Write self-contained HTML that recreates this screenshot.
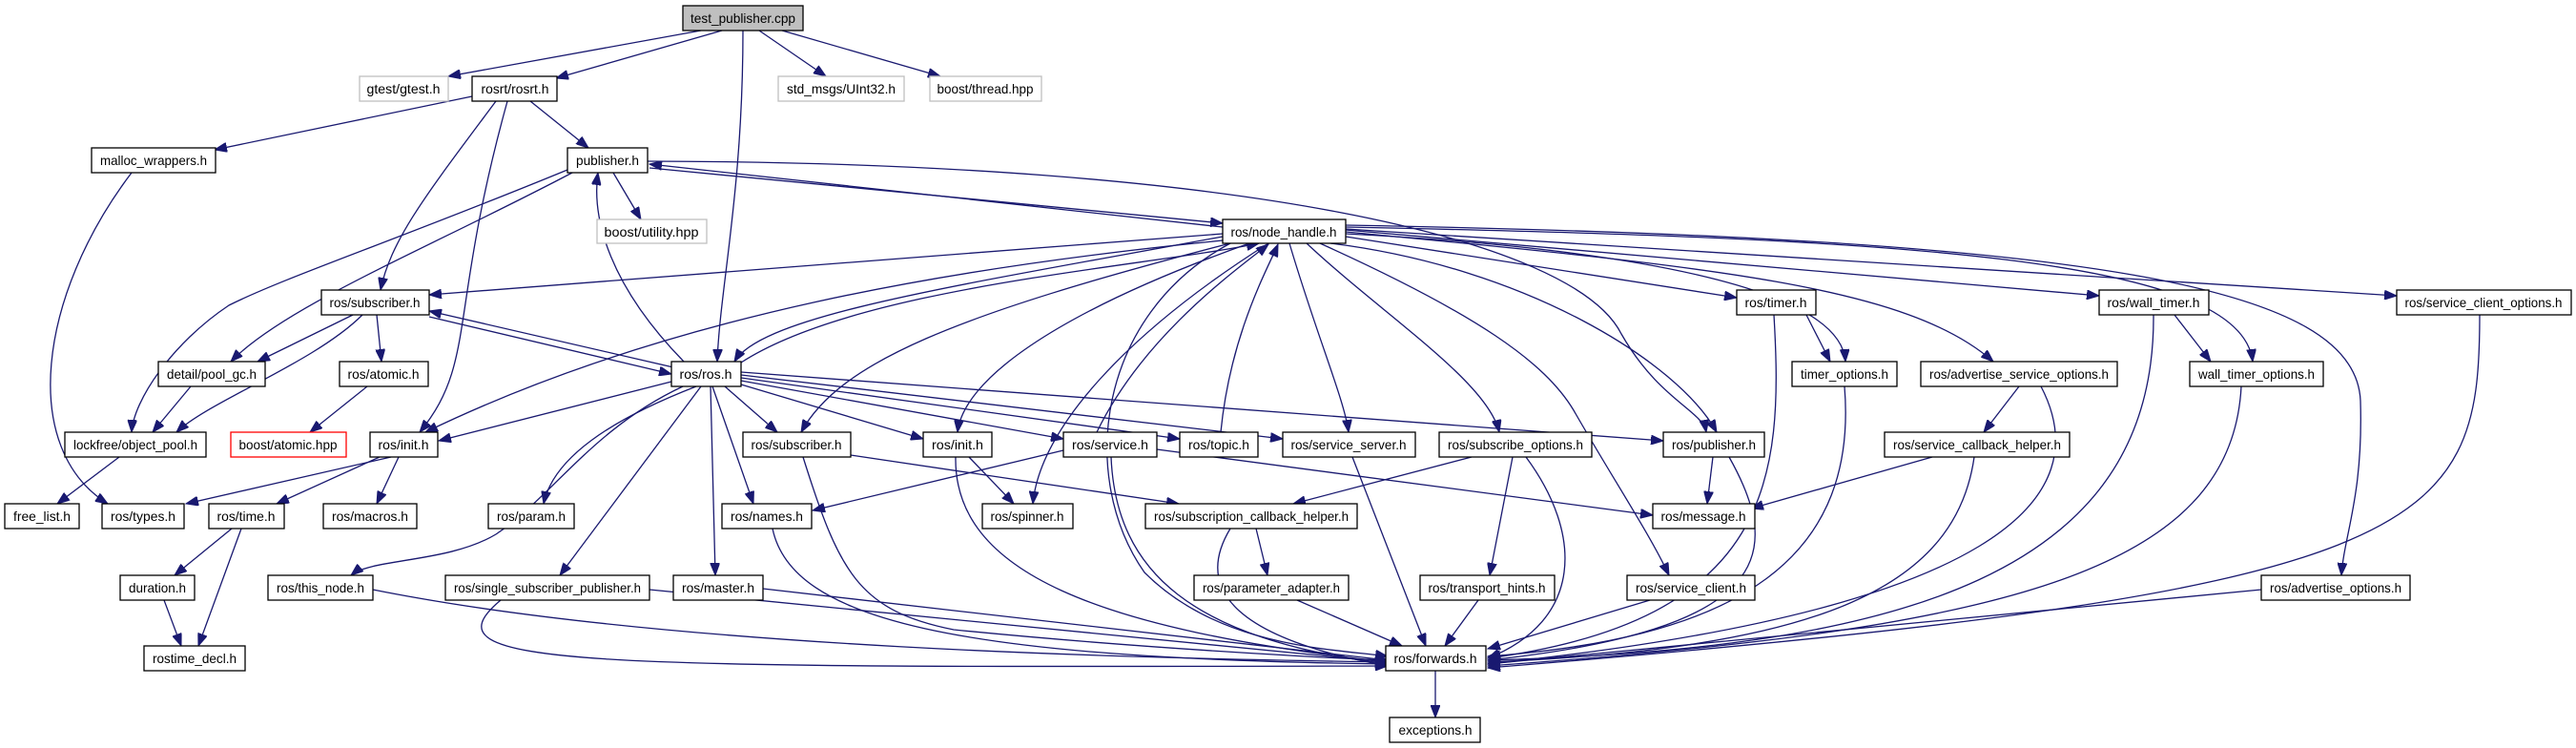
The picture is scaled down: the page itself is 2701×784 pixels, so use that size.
<!DOCTYPE html>
<html><head><meta charset="utf-8"><style>
html,body{margin:0;padding:0;background:#fff;}
svg{display:block;}
text{font-family:"Liberation Sans",Arial,sans-serif;font-size:14px;fill:#000;}
.e{fill:none;stroke:#191970;stroke-width:1.3;}
.n rect{fill:#fff;stroke:#000;stroke-width:1.3;}
</style></head><body>
<svg width="2701" height="784" viewBox="0 0 2701 784" xmlns="http://www.w3.org/2000/svg">
<defs><marker id="a" markerUnits="userSpaceOnUse" markerWidth="14" markerHeight="10" refX="13" refY="5" orient="auto"><path d="M0,0 L13,5 L0,10 z" fill="#191970" stroke="#191970"/></marker></defs>
<g class="e" marker-end="url(#a)">
<path d="M735 32 L470 80"/>
<path d="M757 32 L583 82"/>
<path d="M779 32 C779 200 755 300 752 379"/>
<path d="M796 32 L866 80"/>
<path d="M820 32 L986 80"/>
<path d="M495 101 L225 157"/>
<path d="M556 106 L617 155"/>
<path d="M520 106 C450 200 410 250 399 304"/>
<path d="M532 106 C470 330 500 380 440 453"/>
<path d="M138 181 C40 310 20 470 113 528"/>
<path d="M1282 238 L681 172"/>
<path d="M681 176 L1282 234"/>
<path d="M679 169 C1300 170 1650 250 1700 350 C1740 420 1785 430 1789 453"/>
<path d="M643 181 L672 230"/>
<path d="M600 181 C450 260 300 320 242 379"/>
<path d="M595 178 C420 250 300 290 240 320 C180 360 140 420 138 453"/>
<path d="M1282 245 L450 309"/>
<path d="M1282 248 C1000 300 800 330 770 379"/>
<path d="M1282 252 C1000 280 700 330 446 453"/>
<path d="M704 400 L460 462"/>
<path d="M1290 255 C1150 330 1130 500 1200 600 C1280 680 1400 680 1455 688"/>
<path d="M1290 255 C1000 330 880 380 840 453"/>
<path d="M1310 255 C1100 330 1010 400 1004 453"/>
<path d="M1330 255 C1180 350 1090 450 1083 528"/>
<path d="M1352 255 C1380 350 1410 420 1414 453"/>
<path d="M1370 255 C1450 330 1560 400 1572 453"/>
<path d="M1384 255 C1550 330 1620 380 1650 430 C1690 500 1730 560 1750 603"/>
<path d="M1395 255 C1600 280 1760 380 1800 453"/>
<path d="M1411 248 L1821 312"/>
<path d="M1411 245 C1700 260 1930 300 1935 379"/>
<path d="M1411 243 C1800 280 2000 300 2090 379"/>
<path d="M1411 241 L2201 310"/>
<path d="M1411 238 C2000 250 2350 270 2362 379"/>
<path d="M1411 236 C2200 250 2470 300 2475 420 C2478 520 2458 560 2455 603"/>
<path d="M1411 240 L2513 310"/>
<path d="M717 379 C640 300 620 230 627 181"/>
<path d="M706 385 L450 326"/>
<path d="M450 332 L704 392"/>
<path d="M777 380 C900 300 1200 280 1320 255"/>
<path d="M760 405 L815 453"/>
<path d="M777 403 L968 460"/>
<path d="M777 399 L1115 460"/>
<path d="M777 396 L1237 460"/>
<path d="M777 393 L1345 460"/>
<path d="M777 390 L1744 462"/>
<path d="M747 405 L790 528"/>
<path d="M730 405 C640 440 580 480 570 528"/>
<path d="M716 405 C620 450 580 520 520 560 C470 590 390 585 368 603"/>
<path d="M735 405 L587 603"/>
<path d="M745 405 L750 603"/>
<path d="M370 330 L270 379"/>
<path d="M380 330 C330 380 220 420 185 453"/>
<path d="M395 330 L400 379"/>
<path d="M200 405 L160 453"/>
<path d="M385 405 L325 453"/>
<path d="M125 479 L60 528"/>
<path d="M410 479 L195 528"/>
<path d="M398 479 L290 528"/>
<path d="M418 479 L395 528"/>
<path d="M243 554 L183 603"/>
<path d="M253 554 L208 677"/>
<path d="M172 629 L190 677"/>
<path d="M892 477 L1236 528"/>
<path d="M842 479 C880 600 900 640 1000 660 C1200 680 1400 690 1455 692"/>
<path d="M1016 479 L1063 528"/>
<path d="M1002 479 C1000 600 1150 660 1455 694"/>
<path d="M1115 472 L852 535"/>
<path d="M1213 471 L1733 540"/>
<path d="M1165 479 C1170 600 1250 670 1455 696"/>
<path d="M1150 453 C1200 350 1300 280 1330 256"/>
<path d="M1280 453 C1290 350 1330 280 1340 256"/>
<path d="M1418 479 L1495 677"/>
<path d="M1543 479 L1356 528"/>
<path d="M1586 479 L1562 603"/>
<path d="M1600 479 C1660 560 1660 650 1560 690"/>
<path d="M1796 479 L1790 528"/>
<path d="M1813 479 C1870 580 1860 660 1560 692"/>
<path d="M2026 479 L1836 533"/>
<path d="M2070 479 C2050 620 1900 680 1560 694"/>
<path d="M1317 554 L1329 603"/>
<path d="M1290 554 C1250 620 1300 670 1455 698"/>
<path d="M1360 629 L1470 677"/>
<path d="M1550 629 L1515 677"/>
<path d="M1730 629 L1560 680"/>
<path d="M2371 618 L1560 696"/>
<path d="M391 618 C700 680 1200 690 1455 694"/>
<path d="M681 618 L1455 694"/>
<path d="M800 617 L1455 692"/>
<path d="M525 629 C440 700 600 700 1455 698"/>
<path d="M810 554 C830 650 1000 690 1455 696"/>
<path d="M1894 330 L1919 379"/>
<path d="M1860 330 C1870 500 1860 650 1560 690"/>
<path d="M2280 330 L2318 379"/>
<path d="M2258 330 C2260 600 2000 680 1560 692"/>
<path d="M1934 405 C1950 600 1800 670 1560 688"/>
<path d="M2117 405 L2080 453"/>
<path d="M2140 405 C2200 520 2100 640 1560 696"/>
<path d="M2350 405 C2340 600 2100 660 1560 698"/>
<path d="M2600 330 C2600 560 2550 620 1560 700"/>
<path d="M1505 703 L1505 752"/>
</g>
<g class="n">
<rect x="716" y="6" width="126" height="26" style="fill:#bfbfbf"/><text x="779" y="24" text-anchor="middle" textLength="110" lengthAdjust="spacingAndGlyphs">test_publisher.cpp</text>
<rect x="377" y="80" width="93" height="26" style="stroke:#bfbfbf"/><text x="423" y="98" text-anchor="middle" textLength="77" lengthAdjust="spacingAndGlyphs">gtest/gtest.h</text>
<rect x="495" y="80" width="89" height="26"/><text x="540" y="98" text-anchor="middle" textLength="71" lengthAdjust="spacingAndGlyphs">rosrt/rosrt.h</text>
<rect x="816" y="80" width="132" height="26" style="stroke:#bfbfbf"/><text x="882" y="98" text-anchor="middle" textLength="114" lengthAdjust="spacingAndGlyphs">std_msgs/UInt32.h</text>
<rect x="975" y="80" width="117" height="26" style="stroke:#bfbfbf"/><text x="1033" y="98" text-anchor="middle" textLength="101" lengthAdjust="spacingAndGlyphs">boost/thread.hpp</text>
<rect x="96" y="155" width="130" height="26"/><text x="161" y="173" text-anchor="middle" textLength="112" lengthAdjust="spacingAndGlyphs">malloc_wrappers.h</text>
<rect x="595" y="155" width="84" height="26"/><text x="637" y="173" text-anchor="middle" textLength="66" lengthAdjust="spacingAndGlyphs">publisher.h</text>
<rect x="626" y="230" width="115" height="25" style="stroke:#bfbfbf"/><text x="683" y="248" text-anchor="middle" textLength="99" lengthAdjust="spacingAndGlyphs">boost/utility.hpp</text>
<rect x="1282" y="230" width="129" height="25"/><text x="1346" y="248" text-anchor="middle" textLength="111" lengthAdjust="spacingAndGlyphs">ros/node_handle.h</text>
<rect x="337" y="304" width="113" height="26"/><text x="393" y="322" text-anchor="middle" textLength="95" lengthAdjust="spacingAndGlyphs">ros/subscriber.h</text>
<rect x="1821" y="304" width="83" height="26"/><text x="1862" y="322" text-anchor="middle" textLength="65" lengthAdjust="spacingAndGlyphs">ros/timer.h</text>
<rect x="2201" y="304" width="115" height="26"/><text x="2258" y="322" text-anchor="middle" textLength="97" lengthAdjust="spacingAndGlyphs">ros/wall_timer.h</text>
<rect x="2513" y="304" width="183" height="26"/><text x="2604" y="322" text-anchor="middle" textLength="165" lengthAdjust="spacingAndGlyphs">ros/service_client_options.h</text>
<rect x="166" y="379" width="112" height="26"/><text x="222" y="397" text-anchor="middle" textLength="94" lengthAdjust="spacingAndGlyphs">detail/pool_gc.h</text>
<rect x="356" y="379" width="93" height="26"/><text x="402" y="397" text-anchor="middle" textLength="75" lengthAdjust="spacingAndGlyphs">ros/atomic.h</text>
<rect x="704" y="379" width="73" height="26"/><text x="740" y="397" text-anchor="middle" textLength="55" lengthAdjust="spacingAndGlyphs">ros/ros.h</text>
<rect x="1879" y="379" width="110" height="26"/><text x="1934" y="397" text-anchor="middle" textLength="92" lengthAdjust="spacingAndGlyphs">timer_options.h</text>
<rect x="2014" y="379" width="206" height="26"/><text x="2117" y="397" text-anchor="middle" textLength="188" lengthAdjust="spacingAndGlyphs">ros/advertise_service_options.h</text>
<rect x="2296" y="379" width="140" height="26"/><text x="2366" y="397" text-anchor="middle" textLength="122" lengthAdjust="spacingAndGlyphs">wall_timer_options.h</text>
<rect x="68" y="453" width="148" height="26"/><text x="142" y="471" text-anchor="middle" textLength="130" lengthAdjust="spacingAndGlyphs">lockfree/object_pool.h</text>
<rect x="242" y="453" width="121" height="26" style="stroke:#ff0000"/><text x="302" y="471" text-anchor="middle" textLength="103" lengthAdjust="spacingAndGlyphs">boost/atomic.hpp</text>
<rect x="388" y="453" width="71" height="26"/><text x="423" y="471" text-anchor="middle" textLength="53" lengthAdjust="spacingAndGlyphs">ros/init.h</text>
<rect x="779" y="453" width="113" height="26"/><text x="835" y="471" text-anchor="middle" textLength="95" lengthAdjust="spacingAndGlyphs">ros/subscriber.h</text>
<rect x="968" y="453" width="72" height="26"/><text x="1004" y="471" text-anchor="middle" textLength="54" lengthAdjust="spacingAndGlyphs">ros/init.h</text>
<rect x="1115" y="453" width="98" height="26"/><text x="1164" y="471" text-anchor="middle" textLength="80" lengthAdjust="spacingAndGlyphs">ros/service.h</text>
<rect x="1237" y="453" width="82" height="26"/><text x="1278" y="471" text-anchor="middle" textLength="64" lengthAdjust="spacingAndGlyphs">ros/topic.h</text>
<rect x="1345" y="453" width="139" height="26"/><text x="1414" y="471" text-anchor="middle" textLength="121" lengthAdjust="spacingAndGlyphs">ros/service_server.h</text>
<rect x="1509" y="453" width="160" height="26"/><text x="1589" y="471" text-anchor="middle" textLength="142" lengthAdjust="spacingAndGlyphs">ros/subscribe_options.h</text>
<rect x="1744" y="453" width="106" height="26"/><text x="1797" y="471" text-anchor="middle" textLength="88" lengthAdjust="spacingAndGlyphs">ros/publisher.h</text>
<rect x="1976" y="453" width="194" height="26"/><text x="2073" y="471" text-anchor="middle" textLength="176" lengthAdjust="spacingAndGlyphs">ros/service_callback_helper.h</text>
<rect x="5" y="528" width="78" height="26"/><text x="44" y="546" text-anchor="middle" textLength="60" lengthAdjust="spacingAndGlyphs">free_list.h</text>
<rect x="107" y="528" width="86" height="26"/><text x="150" y="546" text-anchor="middle" textLength="68" lengthAdjust="spacingAndGlyphs">ros/types.h</text>
<rect x="219" y="528" width="79" height="26"/><text x="258" y="546" text-anchor="middle" textLength="61" lengthAdjust="spacingAndGlyphs">ros/time.h</text>
<rect x="339" y="528" width="98" height="26"/><text x="388" y="546" text-anchor="middle" textLength="80" lengthAdjust="spacingAndGlyphs">ros/macros.h</text>
<rect x="512" y="528" width="90" height="26"/><text x="557" y="546" text-anchor="middle" textLength="72" lengthAdjust="spacingAndGlyphs">ros/param.h</text>
<rect x="757" y="528" width="94" height="26"/><text x="804" y="546" text-anchor="middle" textLength="76" lengthAdjust="spacingAndGlyphs">ros/names.h</text>
<rect x="1030" y="528" width="95" height="26"/><text x="1077" y="546" text-anchor="middle" textLength="77" lengthAdjust="spacingAndGlyphs">ros/spinner.h</text>
<rect x="1201" y="528" width="222" height="26"/><text x="1312" y="546" text-anchor="middle" textLength="204" lengthAdjust="spacingAndGlyphs">ros/subscription_callback_helper.h</text>
<rect x="1733" y="528" width="107" height="26"/><text x="1786" y="546" text-anchor="middle" textLength="89" lengthAdjust="spacingAndGlyphs">ros/message.h</text>
<rect x="126" y="603" width="78" height="26"/><text x="165" y="621" text-anchor="middle" textLength="60" lengthAdjust="spacingAndGlyphs">duration.h</text>
<rect x="281" y="603" width="110" height="26"/><text x="336" y="621" text-anchor="middle" textLength="92" lengthAdjust="spacingAndGlyphs">ros/this_node.h</text>
<rect x="467" y="603" width="214" height="26"/><text x="574" y="621" text-anchor="middle" textLength="196" lengthAdjust="spacingAndGlyphs">ros/single_subscriber_publisher.h</text>
<rect x="706" y="603" width="94" height="26"/><text x="753" y="621" text-anchor="middle" textLength="76" lengthAdjust="spacingAndGlyphs">ros/master.h</text>
<rect x="1252" y="603" width="162" height="26"/><text x="1333" y="621" text-anchor="middle" textLength="144" lengthAdjust="spacingAndGlyphs">ros/parameter_adapter.h</text>
<rect x="1489" y="603" width="141" height="26"/><text x="1559" y="621" text-anchor="middle" textLength="123" lengthAdjust="spacingAndGlyphs">ros/transport_hints.h</text>
<rect x="1706" y="603" width="134" height="26"/><text x="1773" y="621" text-anchor="middle" textLength="116" lengthAdjust="spacingAndGlyphs">ros/service_client.h</text>
<rect x="2371" y="603" width="156" height="26"/><text x="2449" y="621" text-anchor="middle" textLength="138" lengthAdjust="spacingAndGlyphs">ros/advertise_options.h</text>
<rect x="151" y="677" width="106" height="26"/><text x="204" y="695" text-anchor="middle" textLength="88" lengthAdjust="spacingAndGlyphs">rostime_decl.h</text>
<rect x="1453" y="677" width="105" height="26"/><text x="1505" y="695" text-anchor="middle" textLength="87" lengthAdjust="spacingAndGlyphs">ros/forwards.h</text>
<rect x="1457" y="752" width="95" height="26"/><text x="1505" y="770" text-anchor="middle" textLength="77" lengthAdjust="spacingAndGlyphs">exceptions.h</text>
</g>
</svg>
</body></html>
